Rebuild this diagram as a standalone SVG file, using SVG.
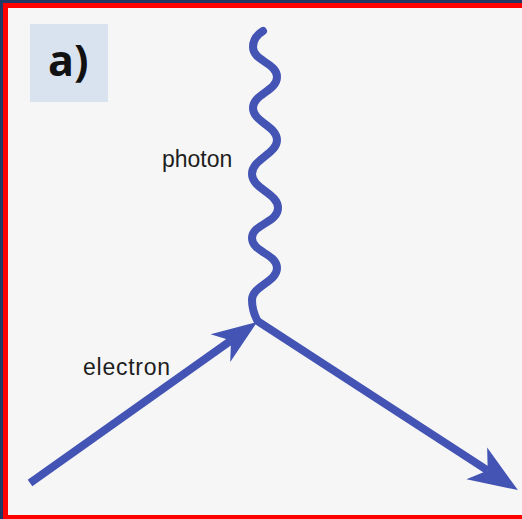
<svg xmlns="http://www.w3.org/2000/svg" width="522" height="519" viewBox="0 0 522 519">
  <style>
    .line { fill: none; stroke: #4354b4; stroke-width: 8; }
    .label { font-family: "Liberation Sans", Arial, sans-serif; font-size: 23px; fill: #1e1e1e; }
    .tag { font-family: "Open Sans", "Liberation Sans", sans-serif; font-weight: bold; font-size: 43px; fill: #111; }
  </style>
  <defs>
    <marker id="arrowIn" markerUnits="userSpaceOnUse" orient="auto" markerWidth="60" markerHeight="60" refX="0" refY="0" viewBox="-20 -25 60 50" overflow="visible">
      <polygon points="32,0 -13,-17 0,0 -13,17" fill="#4354b4"/>
    </marker>
    <marker id="arrowOut" markerUnits="userSpaceOnUse" orient="auto" markerWidth="60" markerHeight="60" refX="0" refY="0" viewBox="-20 -25 60 50" overflow="visible">
      <polygon points="36,0 -13,-19 0,0 -13,19" fill="#4354b4"/>
    </marker>
  </defs>

  <g id="frame">
    <rect x="0" y="0" width="522" height="519" fill="#1f3864"/>
    <rect x="3" y="3" width="519" height="516" fill="#ff0000"/>
    <rect x="8" y="8" width="514" height="507" fill="#f6f6f6"/>
  </g>

  <g id="tag-a">
    <rect x="30" y="24" width="78" height="78" fill="#d9e2ef"/>
    <text class="tag" x="48" y="76">a)</text>
  </g>

  <g id="connectors">
    <path id="photon-line" class="line" stroke-linecap="round"
      d="M 263 31 Q 253 37 253 47 C 253 61, 277 63, 277 77 S 253 94, 253 108 S 277 126, 277 140 S 252 159, 252 174 S 278 193, 278 208 S 252 224, 252 238 S 277 254, 277 268 S 252 286, 252 300 C 252 310, 255 316, 257 320"/>
    <path id="electron-in" class="line" d="M 30 483 L 231 340.5" marker-end="url(#arrowIn)"/>
    <path id="electron-out" class="line" d="M 256 320 L 487.7 470.5" marker-end="url(#arrowOut)"/>
  </g>

  <g id="label-photon">
    <text class="label" x="162" y="167">photon</text>
  </g>
  <g id="label-electron">
    <text class="label" x="83" y="375" textLength="87">electron</text>
  </g>
</svg>
